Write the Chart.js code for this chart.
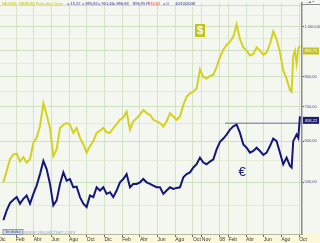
<!DOCTYPE html>
<html><head><meta charset="utf-8">
<script src="https://cdn.jsdelivr.net/npm/chart.js@4"></script>
<style>html,body{margin:0;padding:0;background:#f3f7ef;overflow:hidden}canvas{display:block}</style>
</head><body>
<canvas id="c" width="320" height="243"></canvas>
<script>
// x: months since Jan 2006 (0 = Jan 2006)
const sampleMonths = [-0.43,-0.05,0.32,0.70,1.08,1.45,1.83,2.20,2.58,2.96,3.33,3.71,4.09,4.46,4.84,5.22,5.59,5.97,6.35,6.72,7.10,7.48,7.85,8.23,8.61,8.98,9.36,9.74,10.11,10.49,10.87,11.24,11.62,11.99,12.37,12.75,13.12,13.50,13.88,14.25,14.63,15.01,15.38,15.76,16.14,16.51,16.89,17.27,
17.65,18.02,18.40,18.78,19.15,19.53,19.91,20.28,20.66,21.04,21.41,21.79,22.17,22.54,22.92,23.30,23.67,24.05,24.43,24.80,25.18,25.56,25.93,26.31,26.69,27.06,27.44,27.82,28.19,28.57,28.95,29.32,29.70,30.07,30.45,30.83,31.20,31.58,31.96,32.15,32.33,32.52,32.71,32.90,33.09];
const goldUsd = [499.3,525.6,553.4,565.7,567.4,547.7,559.1,545.3,553.4,595.5,608.8,640.9,710.3,674.7,636.2,561.6,578.3,636.2,645.6,650.4,645.6,622.3,636.2,608.8,591.2,569.9,586.9,599.9,622.3,628.8,636.2,624.2,622.3,636.2,647.5,659.9,666.8,684.6,631.5,655.1,664.9,674.7,689.7,679.7,674.7,659.9,655.1,650.4,
640.9,655.1,679.7,669.8,659.9,669.8,705.1,731.4,742.2,747.7,758.8,826.2,798.8,792.9,802.3,807.0,834.8,872.3,902.3,921.1,934.7,956.9,1010.3,945.7,911.6,898.3,878.8,885.2,911.6,898.3,881.4,891.8,925.1,978.2,945.7,891.8,822.6,792.9,753.2,747.7,878.8,898.3,847.1,905.0,918.4];
const goldEur = [421.7,440.7,455.2,461.9,467.4,453.9,463.9,470.8,453.9,474.3,492.0,517.9,549.3,529.5,495.7,450.5,460.6,495.7,521.8,503.0,506.7,488.4,489.9,467.4,453.9,447.2,470.8,467.4,488.4,481.3,488.4,474.3,477.8,467.4,481.3,499.3,506.7,517.9,488.4,495.7,495.7,499.3,506.7,499.3,495.7,492.0,488.4,488.4,
474.3,481.3,488.4,484.9,487.0,488.4,510.4,517.9,521.8,533.5,541.3,557.5,545.3,541.3,547.7,553.4,578.3,598.1,607.0,617.8,631.5,640.9,645.6,622.3,591.2,582.5,569.9,574.1,582.5,574.1,564.0,569.9,586.9,607.0,599.9,569.9,541.3,557.5,537.4,533.5,599.9,608.8,617.8,608.8,669.8];
const tickMonths = [-1,1,3,5,7,9,11,13,15,17,19,21,22,24,25,27,29,31,33];
const tickLabels = ['Dic','Feb','Abr','Jun','Ago','Oct','Dic','Feb','Abr','Jun','Ago','Oct','Nov','08','Feb','Abr','Jun','Ago','Oct'];
const priceTicks = [450,500,550,600,650,700,750,800,850,900,950,1000,1050,1100];
const labeledPrices = [500,600,700,800,1000];
const refLevel = 650, refStartMonth = 24.62;
const xMin = -0.81, xMax = 33.32, yMin = 396.5, yMax = 1111.5;
const usdBoxValue = 896.75, eurBoxValue = 658.22;
const headerParts = [
  ['XAUUSD · XAUEUR / Fecha día / Cierre', 2, '#c2c000', 61],
  ['= 19,22', 67, '#2b2b8c'], ['= 895,82', 82, '#2b2b8c'], ['= 901,46', 98, '#2b2b8c'],
  ['= 896,84', 113, '#2b2b8c'], ['896,95 P', 133, '#2b2b8c'], ['834,62', 148, '#e03a3a'],
  ['= 0', 163, '#2b2b8c'], ['10/10/2008', 175, '#2b2b8c']
];
const FONT = "'Liberation Sans', Arial, sans-serif";
function fmt(v){const s=v.toFixed(2).split('.');return s[0].replace(/\B(?=(\d{3})+(?!\d))/g,'.')+','+s[1];}

const decor = {
  id:'decor',
  beforeDraw(chart){
    const {ctx, chartArea:a} = chart;
    ctx.save();
    ctx.fillStyle='#f3f7ef'; ctx.fillRect(0,0,320,243);
    ctx.fillStyle='#fbf9da'; ctx.fillRect(0,a.bottom,320,243-a.bottom);
    ctx.restore();
  },
  afterDraw(chart){
    const {ctx, chartArea:a, scales:{y}} = chart;
    ctx.save();
    // header
    ctx.font = '4px '+FONT; ctx.textBaseline='middle'; ctx.textAlign='left';
    headerParts.forEach(p=>{ctx.fillStyle=p[2]; if(p[3]) ctx.fillText(p[0],p[1],4,p[3]); else ctx.fillText(p[0],p[1],4);});
    // top-right panel corner
    ctx.strokeStyle='#8c8c8c'; ctx.lineWidth=1;
    ctx.beginPath(); ctx.moveTo(a.right,4.5); ctx.lineTo(320,4.5); ctx.stroke();
    ctx.fillStyle='#444'; ctx.font='4px '+FONT;
    ctx.fillText('- ▴ ▪', 307, 2.2);
    // $ badge
    ctx.fillStyle='#c4c41c'; ctx.fillRect(195,24,10,13);
    ctx.fillStyle='#ffffff'; ctx.font='bold 11px '+FONT; ctx.textAlign='center';
    ctx.fillText('$',200,31);
    // euro symbol
    ctx.fillStyle='#1a1a7c'; ctx.font='13px '+FONT;
    ctx.fillText('€',242,172.5);
    // value boxes
    const box=(val,txt,bg,fg)=>{const yc=y.getPixelForValue(val);ctx.fillStyle=bg;ctx.fillRect(a.right+1,yc-3.5,16,7);ctx.fillStyle=fg;ctx.font='4px '+FONT;ctx.textAlign='center';ctx.fillText(txt,a.right+9,yc+0.3);};
    box(usdBoxValue,fmt(usdBoxValue),'#c2c22a','#ffffff');
    box(eurBoxValue,fmt(eurBoxValue),'#1c1c6e','#ffffff');
    // bottom-left button and url
    ctx.fillStyle='#cfd9e8'; ctx.fillRect(3,229.5,20,5);
    ctx.strokeStyle='#5a6a8a'; ctx.lineWidth=0.6; ctx.strokeRect(3,229.5,20,5);
    ctx.fillStyle='#334466'; ctx.font='3px '+FONT; ctx.textAlign='center';
    ctx.fillText('Ver Gráfico',13,232.1);
    ctx.fillStyle='#9fb2cf'; ctx.font='5.5px '+FONT; ctx.textAlign='left';
    ctx.fillText('www.visualchart.com',24,232);
    ctx.restore();
  }
};

const pts = arr => sampleMonths.map((m,i)=>({x:m,y:arr[i]}));
new Chart(document.getElementById('c'), {
  type:'line',
  data:{datasets:[
    {data:pts(goldEur), borderColor:'#16167a', borderWidth:2, pointRadius:0, tension:0, order:1},
    {data:pts(goldUsd), borderColor:'#d4d220', borderWidth:2, pointRadius:0, tension:0, order:2},
    {data:[{x:refStartMonth,y:refLevel},{x:xMax,y:refLevel}], borderColor:'#6e6e9e', borderWidth:1, pointRadius:0, order:3}
  ]},
  options:{
    responsive:false, animation:false, devicePixelRatio:1,
    layout:{padding:0},
    plugins:{legend:{display:false}, tooltip:{enabled:false}},
    scales:{
      x:{type:'linear', min:xMin, max:xMax, bounds:'data',
        afterBuildTicks:s=>{s.ticks=tickMonths.map(v=>({value:v}));},
        afterFit:s=>{s.height=9; s.paddingLeft=0; s.paddingRight=0;},
        ticks:{autoSkip:false, maxRotation:0, align:'start', padding:0, color:'#333', font:{size:5, family:FONT},
          callback:v=>{const i=tickMonths.indexOf(v);return i>=0?tickLabels[i]:'';}},
        grid:{color:'#d3e4c6', lineWidth:1, tickLength:3, tickColor:'#666'},
        border:{color:'#b8b8a0', width:1}
      },
      y:{type:'logarithmic', position:'right', min:yMin, max:yMax, bounds:'data',
        afterBuildTicks:s=>{s.ticks=priceTicks.map(v=>({value:v}));},
        afterFit:s=>{s.width=18;},
        ticks:{autoSkip:false, padding:0.5, color:'#4a4a86', font:{size:4, family:FONT},
          callback:v=>labeledPrices.includes(v)?fmt(v):''},
        grid:{color:c=>(c.tick&&c.tick.value%100===0)?'#cfe1c2':'#e1ebd8', lineWidth:1, tickLength:2,
          tickColor:c=>(c.tick&&labeledPrices.includes(c.tick.value))?'#555':'rgba(0,0,0,0)'},
        border:{color:'#8c8c8c', width:1.5}
      }
    }
  },
  plugins:[decor]
});
</script>
</body></html>
